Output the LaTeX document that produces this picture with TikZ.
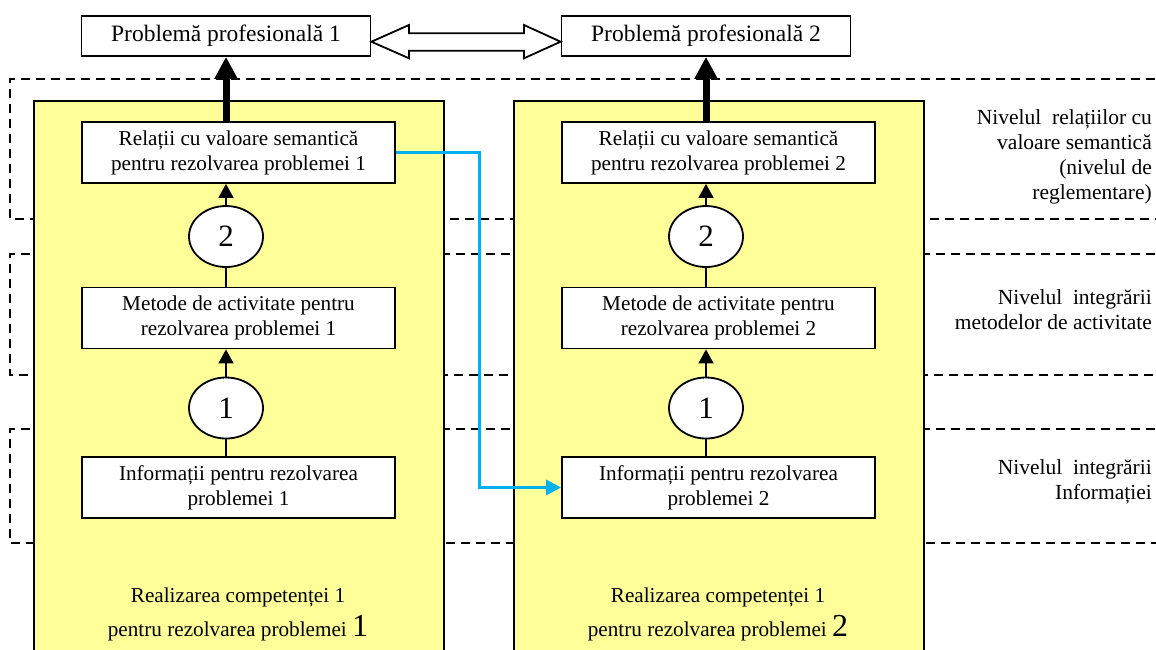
\documentclass[tikz,border=0pt]{standalone}
\usepackage{fontspec}
\setmainfont{Liberation Serif}
\usetikzlibrary{arrows.meta,shapes.geometric}
\definecolor{panelyellow}{HTML}{FFFF99}
\definecolor{linkblue}{HTML}{00B0F0}
\begin{document}
\begin{tikzpicture}[x=1pt,y=-1pt,
  box/.style={draw, line width=1.8pt, fill=white, align=center, inner sep=0pt},
  topbox/.style={box, minimum width=289pt, minimum height=40pt, font=\fontsize{23.5}{28}\selectfont},
  stepbox/.style={box, minimum width=313pt, minimum height=61pt, font=\fontsize{21.2}{25}\selectfont},
  oval/.style={draw, ellipse, line width=1.8pt, fill=white, minimum width=74pt, minimum height=61pt, inner sep=0pt, font=\fontsize{31}{31}\selectfont},
  panel/.style={draw, line width=1.8pt, fill=panelyellow, inner sep=0pt, minimum width=410pt, minimum height=600pt, anchor=north west},
  levelframe/.style={line width=1.4pt, dash pattern=on 9pt off 6pt},
  thinarrow/.style={line width=1.6pt, -{Triangle[length=14pt,width=15pt]}},
  plainline/.style={line width=1.6pt},
  boldarrow/.style={line width=7pt, -{Triangle[length=22pt,width=22pt]}},
  bluelink/.style={draw=linkblue, line width=3pt, -{Triangle[length=15pt,width=15pt]}},
  levellabel/.style={align=right, anchor=east, inner sep=0pt, font=\fontsize{21.5}{25}\selectfont},
  captiontext/.style={align=center, inner sep=0pt, font=\fontsize{21.2}{34}\selectfont}
]
\clip (0,0) rectangle (1156,649);
% level frames
\draw[levelframe] (1170,79) -- (10,79) -- (10,219) -- (1170,219);
\draw[levelframe] (1170,254) -- (10,254) -- (10,375) -- (1170,375);
\draw[levelframe] (1170,429) -- (10,429) -- (10,543) -- (1170,543);
% panels
\node[panel] (p1) at (33,100) {};
\node[panel] (p2) at (513,100) {};
% top problems
\node[topbox] (t1) at (226,36) {Problemă profesională 1};
\node[topbox] (t2) at (706,36) {Problemă profesională 2};
\draw[line width=1.8pt, fill=white] (t1.east |- 0,41.7) -- (409,25) -- (409,33.3) -- (524,33.3) -- (524,25)
  -- (t2.west |- 0,41.7) -- (524,58.3) -- (524,50.7) -- (409,50.7) -- (409,58.3) -- cycle;
% column 1
\node[stepbox] (r1) at (238.5,152.5) {Relații cu valoare semantică\\pentru rezolvarea problemei 1};
\node[stepbox] (m1) at (238.5,318) {Metode de activitate pentru\\rezolvarea problemei 1};
\node[stepbox] (i1) at (238.5,487.5) {Informații pentru rezolvarea\\problemei 1};
\node[oval] (ca2) at (226,236.5) {2};
\node[oval] (ca1) at (226,408) {1};
% column 2
\node[stepbox] (r2) at (718.5,152.5) {Relații cu valoare semantică\\pentru rezolvarea problemei 2};
\node[stepbox] (m2) at (718.5,318) {Metode de activitate pentru\\rezolvarea problemei 2};
\node[stepbox] (i2) at (718.5,487.5) {Informații pentru rezolvarea\\problemei 2};
\node[oval] (cb2) at (706,236.5) {2};
\node[oval] (cb1) at (706,408) {1};
% connectors
\draw[boldarrow] (t1.south |- r1.north) -- (t1.south);
\draw[boldarrow] (t2.south |- r2.north) -- (t2.south);
\draw[thinarrow] (ca2.north) -- (ca2.north |- r1.south);
\draw[plainline] (ca2.south |- m1.north) -- (ca2.south);
\draw[thinarrow] (ca1.north) -- (ca1.north |- m1.south);
\draw[plainline] (ca1.south |- i1.north) -- (ca1.south);
\draw[thinarrow] (cb2.north) -- (cb2.north |- r2.south);
\draw[plainline] (cb2.south |- m2.north) -- (cb2.south);
\draw[thinarrow] (cb1.north) -- (cb1.north |- m2.south);
\draw[plainline] (cb1.south |- i2.north) -- (cb1.south);
\coordinate (bend) at (479,152.5);
\draw[bluelink] (r1.east) -- (bend) |- (i2.west);
% captions
\node[captiontext] (cap1) at (238,614) {Realizarea competenței 1\\pentru rezolvarea problemei {\fontsize{32}{34}\selectfont 1}};
\node[captiontext] (cap2) at (718,614) {Realizarea competenței 1\\pentru rezolvarea problemei {\fontsize{32}{34}\selectfont 2}};
% level labels
\node[levellabel] (l1) at (1152,157) {Nivelul\ \ relațiilor cu\\valoare semantică\\(nivelul de\\reglementare)};
\node[levellabel] (l2) at (1152,310) {Nivelul\ \ integrării\\metodelor de activitate};
\node[levellabel] (l3) at (1152,482) {Nivelul\ \ integrării\\Informației};
\end{tikzpicture}
\end{document}
